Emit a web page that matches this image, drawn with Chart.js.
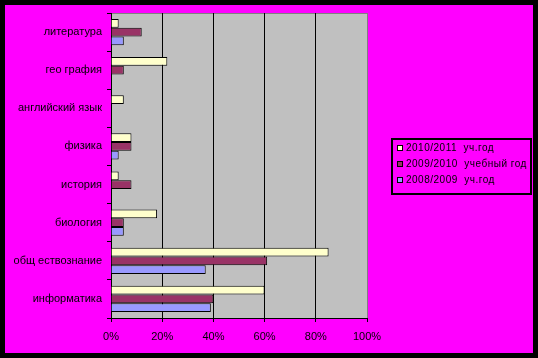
<!DOCTYPE html>
<html><head><meta charset="utf-8">
<script src="https://cdn.jsdelivr.net/npm/chart.js@4"></script>
<style>html,body{margin:0;padding:0;background:#000}#wrap{width:538px;height:358px}</style>
</head><body><div id="wrap"><canvas id="c" width="538" height="358"></canvas></div>
<script>
const categories = ["литература","гео графия","английский язык","физика","история","биология","общ ествознание","информатика"];
const seriesLabels = ["2010/2011  уч.год","2009/2010  учебный год","2008/2009  уч.год"];
const values2010 = [3, 22, 5, 8, 3, 18, 85, 60];
const values2009 = [12, 5, 0, 8, 8, 5, 61, 40];
const values2008 = [5, 0, 0, 3, 0, 5, 37, 39];
const xTicks = [0, 20, 40, 60, 80, 100];
const colors = ["#FFFFCC", "#993366", "#9999FF"];

const framePlugin = {
  id: 'frame',
  beforeDraw(chart) {
    const ctx = chart.ctx, a = chart.chartArea;
    ctx.save();
    ctx.fillStyle = '#000';
    ctx.fillRect(0, 0, chart.width, chart.height);
    ctx.fillStyle = '#FF00FF';
    ctx.fillRect(5, 5, chart.width - 10, chart.height - 10);
    ctx.fillStyle = '#C0C0C0';
    ctx.fillRect(a.left, a.top, a.right - a.left, a.bottom - a.top);
    ctx.strokeStyle = '#808080';
    ctx.lineWidth = 1;
    ctx.beginPath();
    ctx.moveTo(a.left, a.top + 0.5); ctx.lineTo(a.right + 0.5, a.top + 0.5); ctx.lineTo(a.right + 0.5, a.bottom);
    ctx.stroke();
    ctx.restore();
  },
  afterDraw(chart) {
    const ctx = chart.ctx;
    ctx.save();
    const bx = 392, by = 139, bw = 139, bh = 55;
    ctx.strokeStyle = '#000';
    ctx.lineWidth = 2;
    ctx.strokeRect(bx, by, bw, bh);
    ctx.font = '10px "Liberation Sans", Arial, sans-serif';
    ctx.letterSpacing = '0.5px';
    ctx.textBaseline = 'middle';
    const rows = [148.5, 164.5, 180.5];
    chart.data.datasets.forEach((ds, i) => {
      const y = rows[i];
      ctx.fillStyle = ds.backgroundColor;
      ctx.fillRect(397.5, y - 3, 5, 5);
      ctx.strokeStyle = '#000';
      ctx.lineWidth = 1;
      ctx.strokeRect(397.5, y - 3, 5, 5);
      ctx.fillStyle = '#000';
      ctx.fillText(ds.label, 406, y);
    });
    ctx.restore();
  }
};

new Chart(document.getElementById('c'), {
  type: 'bar',
  data: {
    labels: categories,
    datasets: [
      { label: seriesLabels[0], data: values2010, backgroundColor: colors[0] },
      { label: seriesLabels[1], data: values2009, backgroundColor: colors[1] },
      { label: seriesLabels[2], data: values2008, backgroundColor: colors[2] }
    ].map(d => Object.assign(d, { borderColor: '#000', borderWidth: 1, categoryPercentage: 0.69, barPercentage: 1 }))
  },
  options: {
    indexAxis: 'y',
    responsive: false,
    animation: false,
    devicePixelRatio: 1,
    layout: { padding: { left: 0, top: 13, right: 171, bottom: 0 } },
    plugins: { legend: { display: false }, tooltip: { enabled: false } },
    scales: {
      x: {
        min: 0, max: 100,
        afterBuildTicks(scale) { scale.ticks = xTicks.map(v => ({ value: v })); },
        afterFit(scale) { scale.height = 40; },
        ticks: { color: '#000', padding: 8, font: { family: '"Liberation Sans", Arial, sans-serif', size: 11 }, callback: v => v + '%', maxRotation: 0 },
        grid: { color: ctx => (ctx.tick && ctx.tick.value === 100) ? '#808080' : '#000', tickColor: '#000', tickLength: 4, lineWidth: 1 },
        border: { color: '#000', width: 1 }
      },
      y: {
        afterFit(scale) { scale.width = 111; },
        ticks: { color: '#000', padding: 5, font: { family: '"Liberation Sans", Arial, sans-serif', size: 11 }, autoSkip: false },
        grid: { drawOnChartArea: false, offset: true, tickLength: 4, color: '#000', tickColor: '#000' },
        border: { color: '#000', width: 1 }
      }
    }
  },
  plugins: [framePlugin]
});
</script></body></html>
